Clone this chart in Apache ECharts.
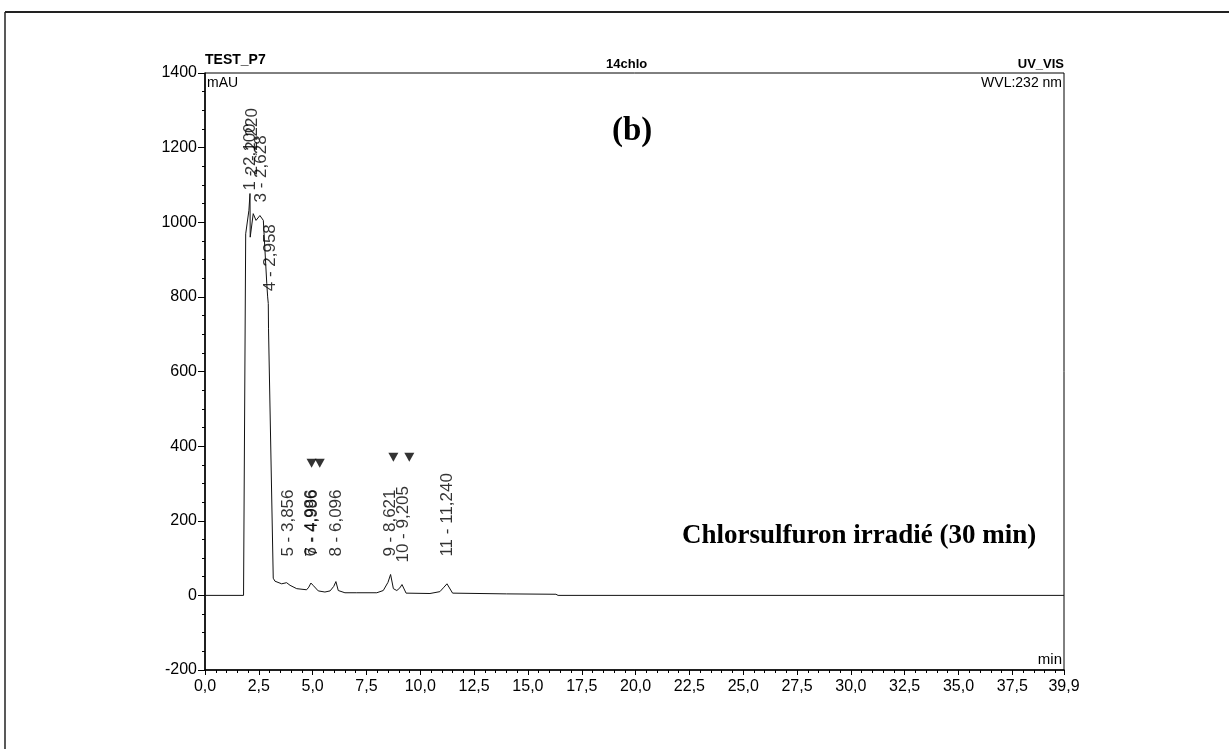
<!DOCTYPE html>
<html>
<head>
<meta charset="utf-8">
<script src="https://cdn.jsdelivr.net/npm/echarts@6/dist/echarts.min.js"></script>
<style>
  html, body { margin: 0; padding: 0; background: #ffffff; }
  #chart { width: 1229px; height: 749px; }
</style>
</head>
<body>
<div id="chart"></div>
<script>
// Chromatogram trace: retention time (min) and absorbance (mAU)
const retentionTimes = [0, 1.79, 1.89, 2.04, 2.09, 2.10, 2.24, 2.37, 2.55, 2.71, 2.87, 2.91, 2.94, 2.95,
  3.17, 3.25, 3.33, 3.56, 3.79, 3.86, 3.95, 4.26, 4.72, 4.82, 4.92, 5.02, 5.11, 5.26, 5.57, 5.81,
  5.98, 6.08, 6.19, 6.50, 7.05, 7.98, 8.28, 8.50, 8.62, 8.75, 8.91, 9.05, 9.15, 9.34, 10.45, 10.91,
  11.10, 11.24, 11.50, 14.0, 16.3, 16.4, 39.9];
const absorbance = [0, 0, 969, 1032, 1077, 960, 1023, 1005, 1018, 1005, 835, 800, 782, 716,
  46, 38, 34, 31, 34, 36, 27, 18, 15, 22, 33, 27, 22, 12, 9, 12,
  24, 37, 13, 7, 7, 7, 13, 35, 56, 18, 13, 20, 29, 6, 5, 10,
  22, 31, 6, 4, 3, 0, 0];

// Integrated peak annotations (label text, time position, level of the label's foot)
const peakLabels = ['1 - 2,100', '2 - 2,220', '3 - 2,628', '4 - 2,958', '5 - 3,856', '6 - 4,986',
  '7 - 4,996', '8 - 6,096', '9 - 8,621', '10 - 9,205', '11 - 11,240'];
const peakLabelTimes = [2.10, 2.22, 2.628, 3.05, 3.856, 4.95, 4.97, 6.096, 8.621, 9.205, 11.24];
const peakLabelLevels = [1085, 1126, 1053, 815, 104, 104, 104, 104, 104, 88, 104];

// Baseline delimiter markers
const markerTimes = [4.95, 5.33, 8.75, 9.49];
const markerLevels = [354, 354, 370, 370];

// Axis settings
const xMin = 0, xMax = 39.9, xStep = 2.5;
const yMin = -200, yMax = 1400, yStep = 200;

const FONT = "'Liberation Sans', Arial, sans-serif";
const SERIF = "'Liberation Serif', 'Times New Roman', serif";

const trace = retentionTimes.map((t, i) => [t, absorbance[i]]);
const labelPoints = peakLabelTimes.map((t, i) => ({ value: [t, peakLabelLevels[i]], name: peakLabels[i] }));
const markers = markerTimes.map((t, i) => [t, markerLevels[i]]);

const chart = echarts.init(document.getElementById('chart'), null, { renderer: 'canvas' });

chart.setOption({
  backgroundColor: '#ffffff',
  animation: false,
  grid: { left: 205, right: 165, top: 73, bottom: 79, show: true, borderColor: '#000', borderWidth: 1 },
  xAxis: {
    type: 'value', min: xMin, max: xMax, interval: xStep,
    axisLine: { show: true, onZero: false, lineStyle: { color: '#000', width: 1.5 } },
    axisTick: { show: true, inside: false, length: 5, lineStyle: { color: '#000' } },
    minorTick: { show: true, splitNumber: 5, length: 3, lineStyle: { color: '#000' } },
    splitLine: { show: false },
    axisLabel: {
      color: '#000', fontFamily: FONT, fontSize: 16, margin: 9,
      formatter: v => v.toFixed(1).replace('.', ',')
    }
  },
  yAxis: {
    type: 'value', min: yMin, max: yMax, interval: yStep,
    axisLine: { show: true, lineStyle: { color: '#000', width: 1.5 } },
    axisTick: { show: true, length: 7, lineStyle: { color: '#000' } },
    minorTick: { show: true, splitNumber: 4, length: 3, lineStyle: { color: '#000' } },
    splitLine: { show: false },
    axisLabel: { color: '#000', fontFamily: FONT, fontSize: 16, margin: 8, formatter: v => String(v) }
  },
  series: [
    {
      type: 'line', data: trace, showSymbol: false, symbol: 'none', smooth: false,
      lineStyle: { color: '#111', width: 1 }, silent: true
    },
    {
      type: 'scatter', data: labelPoints, symbolSize: 1,
      itemStyle: { color: 'rgba(0,0,0,0)' }, silent: true,
      label: {
        show: true, formatter: p => p.name, rotate: 90, position: 'inside',
        align: 'left', verticalAlign: 'middle',
        color: '#000', fontFamily: FONT, fontSize: 17
      }
    },
    {
      type: 'scatter', data: markers, symbol: 'triangle', symbolRotate: 180, symbolSize: [10, 9],
      itemStyle: { color: '#000' }, silent: true
    }
  ],
  graphic: [
    { type: 'line', shape: { x1: 5, y1: 12, x2: 1229, y2: 12 }, style: { stroke: '#222', lineWidth: 2 } },
    { type: 'line', shape: { x1: 5, y1: 12, x2: 5, y2: 749 }, style: { stroke: '#222', lineWidth: 1.5 } },
    { type: 'text', left: 205, top: 53, style: { text: 'TEST_P7', font: "bold 14px " + FONT, fill: '#000' } },
    { type: 'text', left: 207, top: 76, style: { text: 'mAU', font: "14px " + FONT, fill: '#000' } },
    { type: 'text', left: 606, top: 58, style: { text: '14chlo', font: "bold 13px " + FONT, fill: '#000' } },
    { type: 'text', right: 165, top: 58, style: { text: 'UV_VIS', font: "bold 13px " + FONT, fill: '#000' } },
    { type: 'text', right: 167, top: 76, style: { text: 'WVL:232 nm', font: "14px " + FONT, fill: '#000' } },
    { type: 'text', left: 612, top: 115, style: { text: '(b)', font: "bold 33px " + SERIF, fill: '#000' } },
    { type: 'text', left: 682, top: 523, style: { text: 'Chlorsulfuron irradié (30 min)', font: "bold 27px " + SERIF, fill: '#000' } },
    { type: 'text', right: 167, top: 652, style: { text: 'min', font: "15px " + FONT, fill: '#000' } }
  ]
});
</script>
</body>
</html>
